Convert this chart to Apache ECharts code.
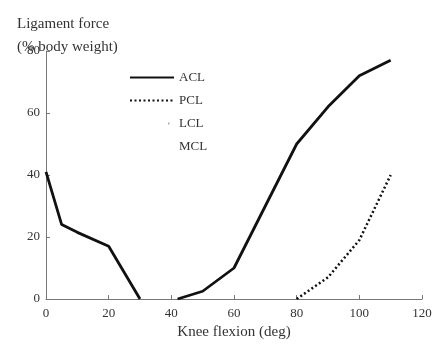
<!DOCTYPE html>
<html>
<head>
<meta charset="utf-8">
<script src="https://cdn.jsdelivr.net/npm/echarts@6/dist/echarts.min.js"></script>
<style>
  html, body { margin: 0; padding: 0; background: #fff; }
  #chart { width: 439px; height: 351px; }
</style>
</head>
<body>
<div id="chart"></div>
<script>
// knee flexion angle (deg) and ligament force (% body weight)
const aclAngle = [0, 5, 10, 20, 30, 35, 42, 50, 60, 70, 80, 90, 100, 110];
const aclForce = [41, 24, 21.5, 17, 0, null, 0, 2.5, 10, 30, 50, 62, 72, 77];
const pclAngle = [80, 90, 100, 110];
const pclForce = [0, 7, 19, 40];
const legendNames = ['ACL', 'PCL', 'LCL', 'MCL'];
const xTicks = [0, 20, 40, 60, 80, 100, 120];
const yTicks = [0, 20, 40, 60, 80];

function pairs(xs, ys) {
  let out = [];
  for (let i = 0; i < xs.length; i++) {
    out.push([xs[i], ys[i] == null ? '-' : ys[i]]);
  }
  return out;
}

const serif = '"Liberation Serif", "DejaVu Serif", serif';
var chart = echarts.init(document.getElementById('chart'));

var option = {
  animation: false,
  textStyle: { fontFamily: serif, color: '#333' },
  grid: { left: 46, right: 17, top: 51, bottom: 52 },
  title: {
    text: 'Ligament force\n(% body weight)',
    left: 12, top: 8,
    textStyle: { fontFamily: serif, fontSize: 15, fontWeight: 'normal', color: '#333', lineHeight: 23 }
  },
  legend: {
    orient: 'vertical',
    left: 124, top: 66,
    itemWidth: 44, itemHeight: 10, itemGap: 10,
    data: legendNames,
    itemStyle: { opacity: 0 },
    textStyle: { fontFamily: serif, fontSize: 13, color: '#333' }
  },
  xAxis: {
    type: 'value',
    min: 0, max: 120, interval: 20,
    name: 'Knee flexion (deg)',
    nameLocation: 'middle', nameGap: 25,
    nameTextStyle: { fontFamily: serif, fontSize: 15, color: '#333' },
    axisLine: { lineStyle: { color: '#777', width: 1 } },
    axisTick: { inside: true, length: 4, lineStyle: { color: '#777' } },
    axisLabel: { fontFamily: serif, fontSize: 13, color: '#333', margin: 8 },
    splitLine: { show: false }
  },
  yAxis: {
    type: 'value',
    min: 0, max: 80, interval: 20,
    axisLine: { show: true, lineStyle: { color: '#777', width: 1 } },
    axisTick: { show: true, inside: true, length: 4, lineStyle: { color: '#777' } },
    axisLabel: { fontFamily: serif, fontSize: 13, color: '#333', margin: 6 },
    splitLine: { show: false }
  },
  series: [
    {
      name: 'ACL', type: 'line', showSymbol: false, symbol: 'none',
      connectNulls: false,
      lineStyle: { color: '#111', width: 2.8 },
      itemStyle: { color: '#111' },
      data: pairs(aclAngle, aclForce)
    },
    {
      name: 'PCL', type: 'line', showSymbol: false, symbol: 'none',
      lineStyle: { color: '#111', width: 2.5, type: [2, 2.5] },
      itemStyle: { color: '#111' },
      data: pairs(pclAngle, pclForce)
    },
    {
      name: 'LCL', type: 'line', showSymbol: false, symbol: 'none',
      lineStyle: { color: '#aaa', width: 1.5, type: [1.5, 60], dashOffset: -38 },
      itemStyle: { color: '#aaa' },
      data: []
    },
    {
      name: 'MCL', type: 'line', showSymbol: false, symbol: 'none',
      lineStyle: { color: '#fff', width: 0, opacity: 0 },
      itemStyle: { color: '#fff', opacity: 0 },
      data: []
    }
  ]
};

chart.setOption(option);
</script>
</body>
</html>
